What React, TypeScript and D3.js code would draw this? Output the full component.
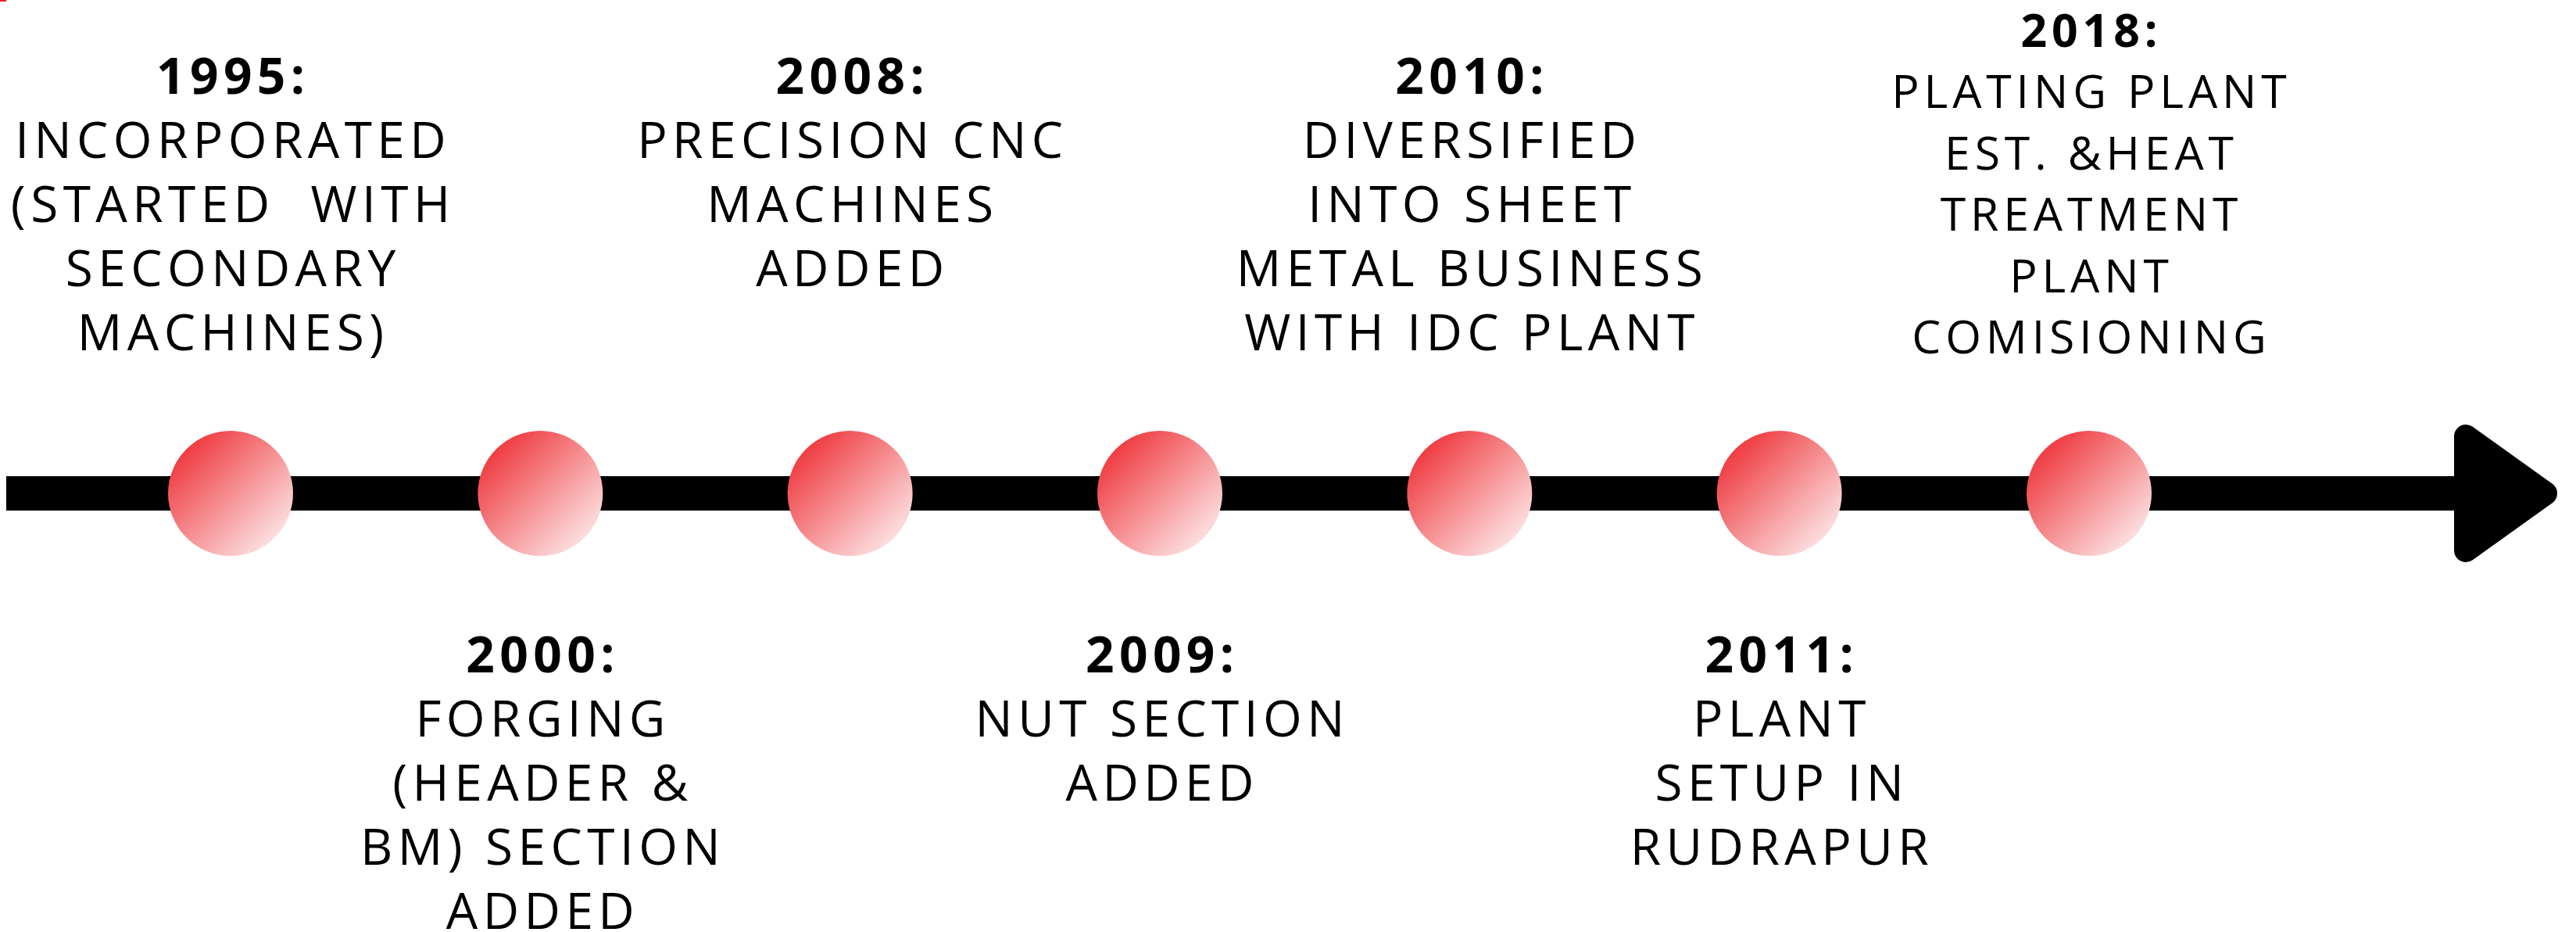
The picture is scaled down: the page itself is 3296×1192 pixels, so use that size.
import React, { useEffect, useRef } from 'react';
import * as d3 from 'd3';

// timeline milestones
const years = ['1995', '2000', '2008', '2009', '2010', '2011', '2018'];
const sides = ['top', 'bottom', 'top', 'bottom', 'top', 'bottom', 'top'];
const descriptions = [
  ['INCORPORATED', '(STARTED  WITH', 'SECONDARY', 'MACHINES)'],
  ['FORGING', '(HEADER &', 'BM) SECTION', 'ADDED'],
  ['PRECISION CNC', 'MACHINES', 'ADDED'],
  ['NUT SECTION', 'ADDED'],
  ['DIVERSIFIED', 'INTO SHEET', 'METAL BUSINESS', 'WITH IDC PLANT'],
  ['PLANT', 'SETUP IN', 'RUDRAPUR'],
  ['PLATING PLANT', 'EST. &HEAT', 'TREATMENT', 'PLANT', 'COMISIONING'],
];

const App = () => {
  const chartRef = useRef(null);

  useEffect(() => {
    const width = 3296;
    const height = 1192;
    const lineY = 631;
    const radius = 80;
    const fontSize = 64;
    const lineStep = 82;

    const svg = d3
      .select(chartRef.current)
      .append('svg')
      .attr('width', width)
      .attr('height', height)
      .style('position', 'absolute')
      .style('left', 0)
      .style('top', 0)
      .style('background', '#fff');

    const grad = svg
      .append('defs')
      .append('linearGradient')
      .attr('id', 'dotGrad')
      .attr('x1', 0)
      .attr('y1', 0)
      .attr('x2', 1)
      .attr('y2', 1);
    grad.append('stop').attr('offset', 0).attr('stop-color', '#ec1c22');
    grad.append('stop').attr('offset', 1).attr('stop-color', '#ffffff');

    // small red mark in the corner
    svg.append('rect').attr('x', 0).attr('y', 0).attr('width', 8).attr('height', 2).attr('fill', '#ec1c22');

    const x = d3.scalePoint().domain(years).range([295, 2673]);

    // main line + arrow head
    svg
      .append('rect')
      .attr('x', 8)
      .attr('y', lineY - 22)
      .attr('width', 3150 - 8)
      .attr('height', 44)
      .attr('fill', '#000');

    const head = d3.line()([
      [3155, lineY - 73],
      [3257, lineY],
      [3155, lineY + 73],
    ]);
    svg
      .append('path')
      .attr('d', head + 'Z')
      .attr('fill', '#000')
      .attr('stroke', '#000')
      .attr('stroke-width', 30)
      .attr('stroke-linejoin', 'round');

    // dots
    svg
      .selectAll('circle.dot')
      .data(years)
      .enter()
      .append('circle')
      .attr('class', 'dot')
      .attr('cx', (d) => x(d))
      .attr('cy', lineY)
      .attr('r', radius)
      .attr('fill', 'url(#dotGrad)');

    // labels
    years.forEach((year, i) => {
      const lines = descriptions[i];
      const rows = lines.length + 1;
      let start = sides[i] === 'top' ? 120 : 860;
      let step = lineStep;
      let fs = fontSize;
      if (sides[i] === 'top' && rows > 5) {
        // squeeze long blocks into the space above the line
        start = 60;
        step = (452 - 60) / (rows - 1);
        fs = fontSize * 0.92;
      }

      const g = svg
        .append('g')
        .attr('transform', `translate(${x(year)},0)`)
        .style('font-family', '"Open Sans", sans-serif')
        .attr('text-anchor', 'middle');

      g.append('text')
        .attr('x', fs * 0.05)
        .attr('y', start)
        .style('font-size', `${fs}px`)
        .style('font-weight', 700)
        .style('letter-spacing', '0.1em')
        .text(year + ':');

      g.selectAll('text.desc')
        .data(lines)
        .enter()
        .append('text')
        .attr('class', 'desc')
        .attr('x', fs * 0.05)
        .attr('y', (d, j) => start + step * (j + 1))
        .style('font-size', `${fs}px`)
        .style('letter-spacing', '0.1em')
        .style('white-space', 'pre')
        .text((d) => d);
    });

    return () => {
      d3.select(chartRef.current).selectAll('*').remove();
    };
  }, []);

  return <div ref={chartRef}></div>;
};

export default App;
